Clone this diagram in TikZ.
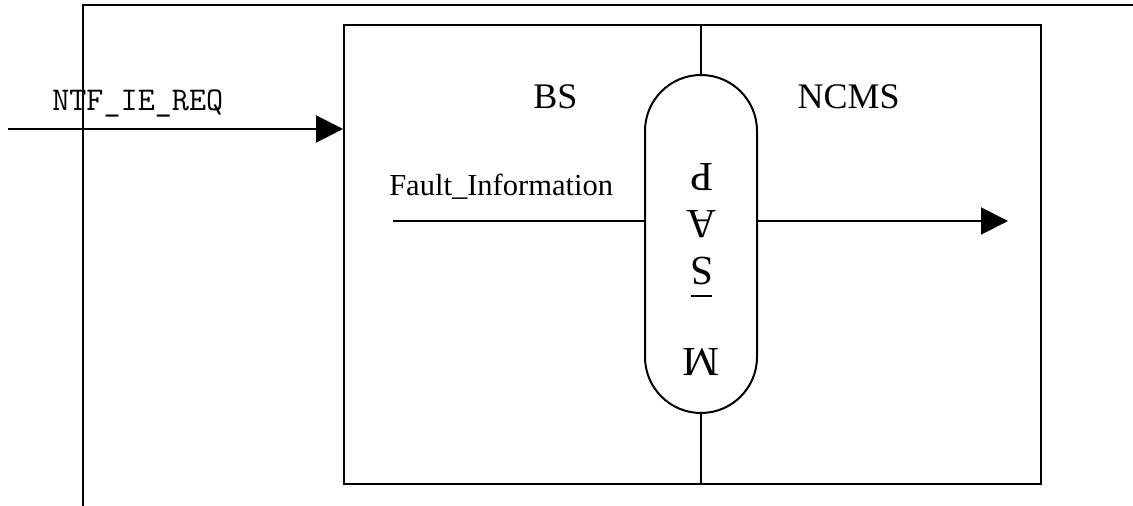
\documentclass[tikz,border=0pt]{standalone}
\usepackage{fontspec}
\setmainfont{Liberation Serif}
\usetikzlibrary{arrows.meta}
\tikzset{
  wire/.style={line width=1.5pt, line cap=rect},
  flow/.style={wire, -{Triangle[length=20.25pt, width=20.25pt]}},
  blockbox/.style={draw, line width=1.5pt, inner sep=0pt, minimum width=522.75pt, minimum height=344.25pt},
  capsule/.style={draw, line width=1.5pt, inner sep=0pt, minimum width=84pt, minimum height=253.5pt, rounded corners=42pt},
  lbl/.style={inner sep=0pt, font=\fontsize{22.9}{26}\selectfont},
  bigl/.style={inner sep=0pt, font=\fontsize{27}{31}\selectfont},
  letter/.style={inner sep=0pt, rotate=180, font=\fontsize{31}{35}\selectfont},
  msg/.style={inner sep=0pt, font=\ttfamily\fontsize{24.9}{28}\selectfont}
}
\begin{document}
\begin{tikzpicture}[x=0.75pt, y=-0.75pt]
  \useasboundingbox (0,0) rectangle (1133,506);

  % enclosing frame corner
  \coordinate (ftop) at (83,5);
  \coordinate (fright) at (1133,5);
  \coordinate (fbottom) at (83,506);
  \draw[wire, line cap=butt] (fright) -- (ftop) -- (fbottom);

  % BS / NCMS block and the service access point between them
  \node[blockbox] (box) at (692.5,254.5) {};
  \node[capsule] (cap) at (701,244) {};
  \draw[wire, line cap=butt] (cap.north |- box.north) -- (cap.north);
  \draw[wire, line cap=butt] (cap.south) -- (cap.south |- box.south);

  \node[bigl, anchor=base west] (bs) at (533,109) {BS};
  \node[bigl, anchor=base east] (ncms) at (900,109) {NCMS};

  % letters of the access point, turned upside down
  \node[letter] (lp) at (702,177) {P};
  \node[letter] (la) at (702,224) {A};
  \node[letter] (ls) at (702,271) {S};
  \coordinate (ulL) at (691,296);
  \coordinate (ulR) at (712,296);
  \draw[line width=1.5pt] (ulL) -- (ulR);
  \node[letter] (lm) at (701,362) {M};

  % incoming request
  \coordinate (reqsrc) at (9,129);
  \draw[flow] (reqsrc) -- (reqsrc -| box.west);
  \node[msg, anchor=base west] (req) at (52,111) {NTF\_IE\_REQ};

  % fault information passing through the access point
  \coordinate (fsrc) at (393,221);
  \coordinate (fdst) at (1008,221);
  \draw[wire, line cap=butt] (fsrc) -- (fsrc -| cap.west);
  \draw[flow, line cap=butt] (fsrc -| cap.east) -- (fdst);
  \node[lbl, anchor=base west] (fault) at (389,196) {Fault\_Information};
\end{tikzpicture}
\end{document}
